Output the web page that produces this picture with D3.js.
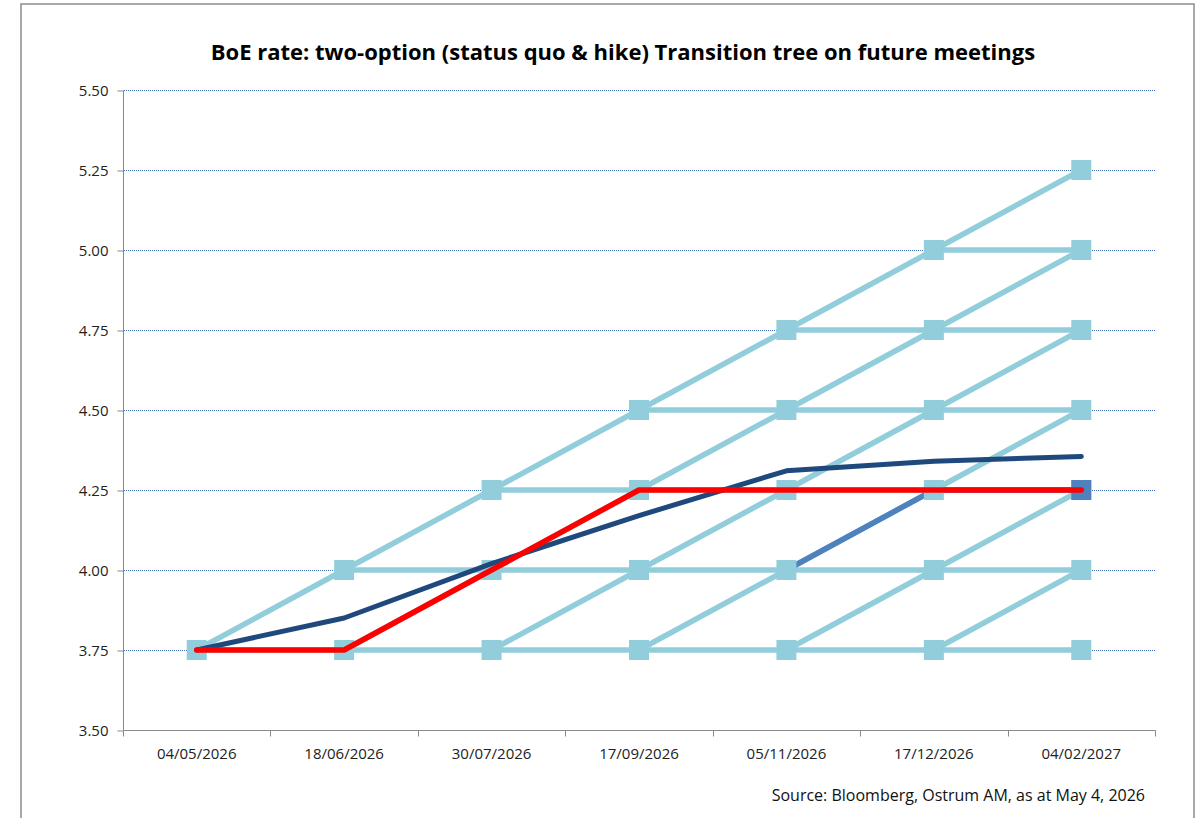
<!DOCTYPE html>
<html>
<head>
<meta charset="utf-8">
<script src="https://cdn.jsdelivr.net/npm/d3@7"></script>
<style>
  body { margin: 0; background: #fff; }
  text { font-family: "Open Sans", Lato, sans-serif; }
</style>
</head>
<body>
<script>
var w = 1203;
var h = 818;

// meeting dates (categories)
var meetings = ["04/05/2026", "18/06/2026", "30/07/2026", "17/09/2026", "05/11/2026", "17/12/2026", "04/02/2027"];

// status quo branches (flat from the meeting where the level first appears)
var hold375 = [3.75, 3.75, 3.75, 3.75, 3.75, 3.75, 3.75];
var hold400 = [null, 4.00, 4.00, 4.00, 4.00, 4.00, 4.00];
var hold425 = [null, null, 4.25, 4.25, 4.25, 4.25, 4.25];
var hold450 = [null, null, null, 4.50, 4.50, 4.50, 4.50];
var hold475 = [null, null, null, null, 4.75, 4.75, 4.75];
var hold500 = [null, null, null, null, null, 5.00, 5.00];

// hike branches (+25bp at each meeting)
var hikeFrom0 = [3.75, 4.00, 4.25, 4.50, 4.75, 5.00, 5.25];
var hikeFrom1 = [null, 3.75, 4.00, 4.25, 4.50, 4.75, 5.00];
var hikeFrom2 = [null, null, 3.75, 4.00, 4.25, 4.50, 4.75];
var hikeFrom3 = [null, null, null, 3.75, 4.00, 4.25, 4.50];
var hikeFrom4 = [null, null, null, null, 3.75, 4.00, 4.25];
var hikeFrom5 = [null, null, null, null, null, 3.75, 4.00];

// highlighted paths
var highlight = [null, null, null, null, 4.00, 4.25, 4.25];
var implied = [3.75, 3.85, 4.02, 4.17, 4.31, 4.34, 4.355];
var scenario = [3.75, 3.75, 4.00, 4.25, 4.25, 4.25, 4.25];

var yTicks = [3.50, 3.75, 4.00, 4.25, 4.50, 4.75, 5.00, 5.25, 5.50];

var treeSeries = [hold375, hold400, hold425, hold450, hold475, hold500,
                  hikeFrom0, hikeFrom1, hikeFrom2, hikeFrom3, hikeFrom4, hikeFrom5];

var plotLeft = 123, plotRight = 1155, plotTop = 90, plotBottom = 730;
var lightBlue = "#92CDDC";
var axisGrey = "#898989";

var svg = d3.select("body")
    .append("svg")
    .attr("width", w)
    .attr("height", h);

// outer frame
svg.append("rect")
    .attr("x", 21)
    .attr("y", 4)
    .attr("width", 1173)
    .attr("height", 840)
    .attr("fill", "none")
    .attr("stroke", "#8c8c8c")
    .attr("stroke-width", 1.5);

var xScale = d3.scaleBand()
    .domain(meetings)
    .range([plotLeft, plotRight]);

var yScale = d3.scaleLinear()
    .domain([3.5, 5.5])
    .range([plotBottom, plotTop]);

var cx = d => xScale(d) + xScale.bandwidth() / 2;

// gridlines (dotted blue)
svg.append("g")
    .selectAll("line")
    .data(yTicks.slice(1))
    .enter()
    .append("line")
    .attr("x1", plotLeft + 1)
    .attr("x2", plotRight)
    .attr("y1", d => Math.round(yScale(d)) + 0.5)
    .attr("y2", d => Math.round(yScale(d)) + 0.5)
    .attr("stroke", "#3F72B5")
    .attr("stroke-width", 1)
    .attr("stroke-dasharray", "1,1")
    .attr("shape-rendering", "crispEdges");

// y axis
var yAxis = d3.axisLeft(yScale)
    .tickValues(yTicks)
    .tickFormat(d3.format(".2f"))
    .tickSize(6)
    .tickPadding(9);

var gy = svg.append("g")
    .attr("transform", "translate(" + (plotLeft + 0.5) + ",0.5)")
    .call(yAxis);
gy.select(".domain").attr("stroke", axisGrey).attr("d", "M0," + plotBottom + "V" + plotTop);
gy.selectAll(".tick line").attr("stroke", axisGrey);
gy.selectAll(".tick text")
    .attr("fill", "#222")
    .style("font-size", "15px")
    .style("font-family", "'Open Sans', sans-serif");

// x axis: ticks between categories, labels centred
var gx = svg.append("g").attr("transform", "translate(0.5,0.5)");
gx.append("line")
    .attr("x1", plotLeft).attr("x2", plotRight)
    .attr("y1", plotBottom).attr("y2", plotBottom)
    .attr("stroke", axisGrey);
gx.selectAll(".xtick")
    .data(meetings.concat(["end"]))
    .enter()
    .append("line")
    .attr("x1", d => Math.round(d === "end" ? plotRight : xScale(d)))
    .attr("x2", d => Math.round(d === "end" ? plotRight : xScale(d)))
    .attr("y1", plotBottom)
    .attr("y2", plotBottom + 6)
    .attr("stroke", axisGrey);
svg.append("g")
    .selectAll("text")
    .data(meetings)
    .enter()
    .append("text")
    .attr("x", d => cx(d))
    .attr("y", 759)
    .attr("text-anchor", "middle")
    .attr("fill", "#222")
    .style("font-size", "15px")
    .text(d => d);

var line = d3.line()
    .defined(d => d.v !== null)
    .x(d => cx(d.m))
    .y(d => yScale(d.v));

var toPoints = arr => arr.map((v, i) => ({ m: meetings[i], v: v }));

// tree branches
svg.append("g")
    .selectAll("path")
    .data(treeSeries)
    .enter()
    .append("path")
    .attr("d", d => line(toPoints(d)))
    .attr("fill", "none")
    .attr("stroke", lightBlue)
    .attr("stroke-width", 5.5);

svg.append("path")
    .attr("d", line(toPoints(highlight)))
    .attr("fill", "none")
    .attr("stroke", "#4F81BD")
    .attr("stroke-width", 5.5);

// node markers
var nodes = [];
treeSeries.forEach(s => s.forEach((v, i) => {
    if (v !== null && !nodes.some(n => n.i === i && n.v === v)) nodes.push({ i: i, v: v });
}));
var size = 20;
svg.append("g")
    .selectAll("rect")
    .data(nodes)
    .enter()
    .append("rect")
    .attr("x", d => cx(meetings[d.i]) - size / 2)
    .attr("y", d => yScale(d.v) - size / 2)
    .attr("width", size)
    .attr("height", size)
    .attr("fill", lightBlue);

var last = highlight.length - 1;
svg.append("rect")
    .attr("x", cx(meetings[last]) - size / 2)
    .attr("y", yScale(highlight[last]) - size / 2)
    .attr("width", size)
    .attr("height", size)
    .attr("fill", "#4F81BD");

svg.append("path")
    .attr("d", line(toPoints(implied)))
    .attr("fill", "none")
    .attr("stroke", "#1F497D")
    .attr("stroke-width", 5)
    .attr("stroke-linecap", "round")
    .attr("stroke-linejoin", "round");

svg.append("path")
    .attr("d", line(toPoints(scenario)))
    .attr("fill", "none")
    .attr("stroke", "#FF0000")
    .attr("stroke-width", 5.5)
    .attr("stroke-linecap", "round")
    .attr("stroke-linejoin", "round");

// title and source
svg.append("text")
    .attr("x", 623)
    .attr("y", 60)
    .attr("text-anchor", "middle")
    .attr("fill", "#000")
    .style("font-size", "22px")
    .style("font-weight", "bold")
    .text("BoE rate: two-option (status quo & hike) Transition tree on future meetings");

svg.append("text")
    .attr("x", 1145)
    .attr("y", 801)
    .attr("text-anchor", "end")
    .attr("fill", "#111")
    .style("font-size", "16px")
    .text("Source: Bloomberg, Ostrum AM, as at May 4, 2026");
</script>
</body>
</html>
